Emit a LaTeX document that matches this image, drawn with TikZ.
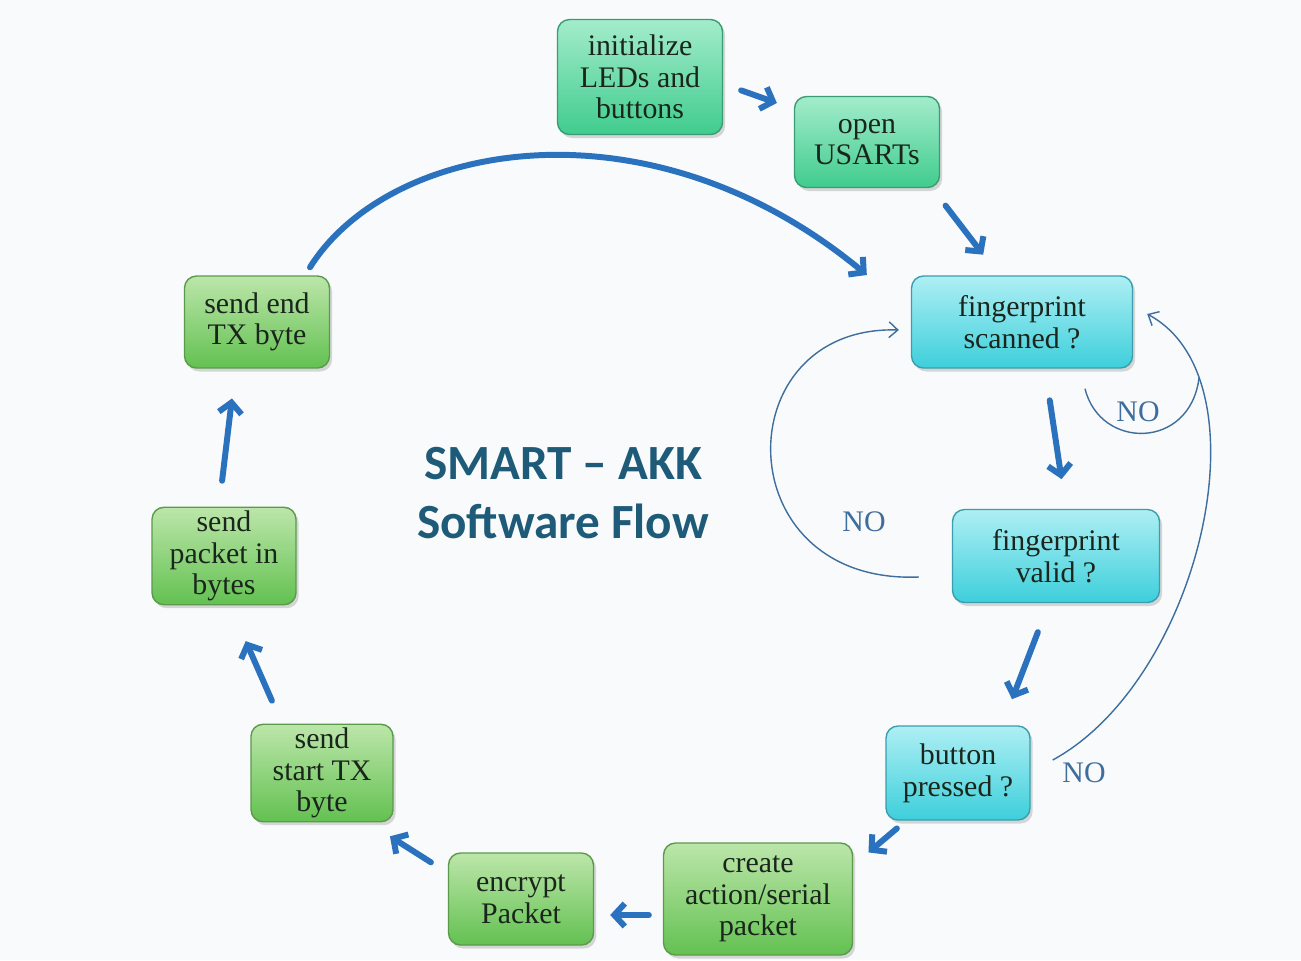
\documentclass[tikz,border=0pt]{standalone}
\usepackage{fontspec}
\setmainfont{Liberation Serif}
\newfontfamily\titlefont{Carlito}
\usetikzlibrary{arrows.meta,calc,shadows}

\definecolor{bgc}{HTML}{F9FAFB}
\definecolor{txt}{HTML}{1A261C}
\definecolor{flowc}{HTML}{2B72BE}
\definecolor{thinc}{HTML}{3E6E9E}
\definecolor{titlec}{HTML}{1D5B78}
% teal-green start boxes
\definecolor{tgTop}{HTML}{A3ECCB}
\definecolor{tgBot}{HTML}{40CC8E}
\definecolor{tgLine}{HTML}{3A9C74}
% cyan decision boxes
\definecolor{cyTop}{HTML}{AEEFF4}
\definecolor{cyBot}{HTML}{3DCFDB}
\definecolor{cyLine}{HTML}{3A9EAE}
% green process boxes
\definecolor{grTop}{HTML}{BCE6AA}
\definecolor{grBot}{HTML}{63C151}
\definecolor{grLine}{HTML}{5A9A4A}

\begin{document}
\begin{tikzpicture}[x=0.02cm,y=-0.02cm,
  box/.style={rounded corners=0.24cm, line width=0.8pt, align=center,
    inner sep=2pt, text=txt, font=\fontsize{17}{18}\selectfont,
    drop shadow={shadow xshift=1.5pt, shadow yshift=-2pt, opacity=0.3}},
  tealbox/.style={box, draw=tgLine, top color=tgTop, bottom color=tgBot},
  cyanbox/.style={box, draw=cyLine, top color=cyTop, bottom color=cyBot},
  greenbox/.style={box, draw=grLine, top color=grTop, bottom color=grBot},
  flow/.style={draw=flowc, line width=3.4pt, line cap=round,
    -{Straight Barb[length=6pt,width=13pt]}},
  backloop/.style={draw=thinc, line width=0.8pt,
    -{Straight Barb[length=5pt,width=9pt]}},
  backline/.style={draw=thinc, line width=0.8pt},
  nolabel/.style={text=thinc, font=\fontsize{17}{18}\selectfont},
  title/.style={text=titlec, align=center,
    font=\titlefont\bfseries\fontsize{28}{34}\selectfont}]

\useasboundingbox (0,0) rectangle (1301,960);
\fill[bgc] (0,0) rectangle (1301,960);

% process steps
\node[tealbox, minimum width=3.3cm, minimum height=2.3cm] (init) at (640,77) {initialize\\LEDs and\\buttons};
\node[tealbox, minimum width=2.9cm, minimum height=1.82cm] (open) at (867,142) {open\\USARTs};
\node[cyanbox, minimum width=4.42cm, minimum height=1.84cm] (scanned) at (1022,322) {fingerprint\\scanned ?};
\node[cyanbox, minimum width=4.14cm, minimum height=1.86cm] (valid) at (1056,556) {fingerprint\\valid ?};
\node[cyanbox, minimum width=2.88cm, minimum height=1.88cm] (button) at (958,773) {button\\pressed ?};
\node[greenbox, minimum width=3.78cm, minimum height=2.24cm] (create) at (758,899) {create\\action/serial\\packet};
\node[greenbox, minimum width=2.9cm, minimum height=1.84cm] (encrypt) at (521,899) {encrypt\\Packet};
\node[greenbox, minimum width=2.84cm, minimum height=1.9cm] (start) at (322,773) {send\\start TX\\byte};
\node[greenbox, minimum width=2.88cm, minimum height=1.9cm] (packet) at (224,556) {send\\packet in\\bytes};
\node[greenbox, minimum width=2.9cm, minimum height=1.84cm] (end) at (257,322) {send end\\TX byte};

% title
\node[title] (title) at (563,493) {SMART – AKK\\Software Flow};

% main flow
\draw[flow, shorten <=0.38cm, shorten >=0.36cm] ($(init.east)+(0,7)$) -- ($(open.west)+(0,-33)$);
\draw[flow, shorten <=0.44cm, shorten >=0.52cm] ($(open.south east)+(-8,0)$) -- ($(scanned.north)+(-23,0)$);
\draw[flow, shorten <=0.64cm, shorten >=0.6cm] ($(scanned.south)+(23,0)$) -- ($(valid.north)+(10,0)$);
\draw[flow, shorten <=0.62cm, shorten >=0.56cm] ($(valid.south)+(-7,0)$) -- ($(button.north)+(44,0)$);
\draw[flow, shorten <=0.24cm, shorten >=0.4cm] ($(button.south)+(-52,0)$) -- ($(create.north east)+(0,23)$);
\draw[flow, shorten <=0.28cm, shorten >=0.32cm] ($(create.west)+(0,16)$) -- ($(encrypt.east)+(0,16)$);
\draw[flow, shorten <=0.4cm, shorten >=0.52cm] ($(encrypt.west)+(0,-26)$) -- ($(start.south)+(46,0)$);
\draw[flow, shorten <=0.5cm, shorten >=0.78cm] ($(start.north)+(-40,0)$) -- ($(packet.south)+(6,0)$);
\draw[flow, shorten <=0.52cm, shorten >=0.6cm] ($(packet.north)+(-5,0)$) -- ($(end.south)+(-21.5,0)$);
\draw[flow] ($(end.north)+(53,-8)$) .. controls (390,140) and (650,95) .. ($(scanned.west)+(-44,-47)$);

% "NO" branches back to the scan check
\draw[backloop] ($(valid.west)+(-33,21)$) .. controls (725,585) and (725,325) .. ($(scanned.west)+(-12,8)$);
\draw[backloop] ($(button.east)+(22,-13)$) .. controls (1200,680) and (1270,380) .. ($(scanned.east)+(14,-8)$);
\coordinate (merge) at (1199,378);
\draw[backline] ($(scanned.south)+(63,20)$) .. controls (1100,450) and (1190,450) .. (merge);

\node[nolabel] (no1) at (1138,412) {NO};
\node[nolabel] (no2) at (864,522) {NO};
\node[nolabel] (no3) at (1084,773) {NO};
\end{tikzpicture}
\end{document}
